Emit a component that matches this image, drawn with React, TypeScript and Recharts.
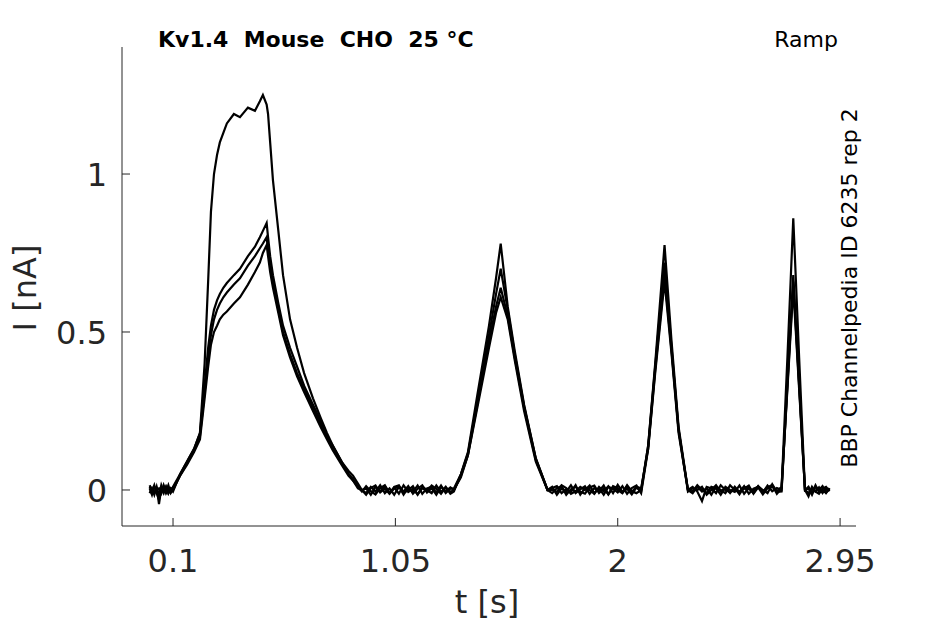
import { Line, LineChart, XAxis, YAxis } from 'recharts'

// Ramp protocol recordings, four sweeps sharing one time base (s).
const TIME = [
  0, 0.01, 0.02, 0.03, 0.04, 0.05, 0.06, 0.07, 0.08, 0.09, 0.1,
  0.13, 0.16, 0.19, 0.215,
  0.235, 0.25, 0.262, 0.275, 0.288, 0.3, 0.315, 0.33, 0.36, 0.386, 0.42, 0.45, 0.471, 0.484, 0.5,
  0.506, 0.515, 0.527, 0.55, 0.57, 0.6, 0.63, 0.66, 0.698, 0.73, 0.758, 0.783, 0.82, 0.85, 0.869, 0.89, 0.907,
  0.925, 0.945, 0.965, 0.985, 1.005, 1.025, 1.045, 1.065, 1.085, 1.105,
  1.125, 1.145, 1.165, 1.185, 1.205, 1.225, 1.245, 1.265, 1.285, 1.3,
  1.33, 1.36, 1.4, 1.45, 1.48, 1.5, 1.53, 1.56, 1.6, 1.65, 1.7,
  1.72, 1.74, 1.76, 1.78, 1.8, 1.82, 1.84, 1.86, 1.88, 1.9,
  1.92, 1.94, 1.96, 1.98, 2.0, 2.02, 2.04, 2.06, 2.08, 2.1,
  2.13, 2.16, 2.2, 2.23, 2.26, 2.3,
  2.32, 2.34, 2.36, 2.38, 2.4, 2.42, 2.44, 2.46, 2.48, 2.5,
  2.52, 2.54, 2.56, 2.58, 2.6, 2.62, 2.64, 2.66, 2.68, 2.7,
  2.725, 2.75, 2.775, 2.8,
  2.815, 2.83, 2.845, 2.86, 2.875, 2.89, 2.905,
]

// current in nA
const SWEEP_A = [
  0.01, -0.005, 0.015, -0.01, -0.03, 0.0, 0.01, -0.01, 0.005, -0.005, 0.01,
  0.05, 0.09, 0.13, 0.18,
  0.4, 0.66, 0.88, 1.0, 1.06, 1.1, 1.13, 1.16, 1.19, 1.18, 1.21, 1.2, 1.23, 1.25, 1.22,
  1.19, 1.1, 0.98, 0.82, 0.68, 0.54, 0.45, 0.37, 0.29, 0.23, 0.18, 0.14, 0.09, 0.06, 0.045, 0.02, 0.0,
  -0.01, 0.01, -0.005, 0.015, -0.01, 0.005, -0.015, 0.01, -0.005, 0.012,
  -0.012, 0.004, 0.015, -0.008, 0.006, -0.015, 0.01, -0.004, 0.008, 0.0,
  0.04, 0.11, 0.26, 0.45, 0.56, 0.61, 0.54, 0.41, 0.25, 0.09, 0.0,
  0.01, -0.015, 0.005, -0.006, 0.015, -0.01, 0.002, 0.012, -0.012, 0.006,
  -0.004, 0.014, -0.014, 0.008, 0.0, -0.01, 0.012, -0.006, 0.01, 0.005,
  0.13, 0.37, 0.66, 0.43, 0.18, 0.0,
  -0.01, 0.01, -0.005, 0.006, -0.015, 0.01, 0.0, -0.01, 0.015, 0.0,
  -0.006, 0.012, -0.012, 0.004, 0.01, -0.008, 0.014, -0.004, 0.006, 0.0,
  0.33, 0.66, 0.33, 0.0,
  -0.02, 0.01, -0.005, 0.008, -0.01, 0.005, 0.0,
]

const SWEEP_B = [
  -0.01, 0.005, -0.015, 0.01, -0.02, 0.015, -0.005, 0.01, -0.01, 0.005, -0.005,
  0.05, 0.09, 0.13, 0.18,
  0.33, 0.45, 0.52, 0.57, 0.6, 0.62, 0.64, 0.655, 0.68, 0.7, 0.74, 0.77, 0.8, 0.82, 0.845,
  0.8, 0.74, 0.68, 0.59, 0.52, 0.45, 0.39, 0.33, 0.27, 0.22, 0.17, 0.14, 0.09, 0.05, 0.03, 0.01, 0.0,
  0.005, -0.015, 0.01, -0.005, 0.012, -0.01, 0.008, -0.012, 0.015, -0.006,
  0.004, -0.014, 0.01, 0.0, -0.01, 0.014, -0.006, 0.01, -0.012, -0.005,
  0.05, 0.12, 0.3, 0.52, 0.67, 0.78, 0.58, 0.44, 0.27, 0.1, 0.0,
  -0.01, 0.006, 0.012, -0.015, 0.002, 0.01, -0.006, -0.012, 0.008, 0.014,
  -0.01, 0.004, -0.014, 0.012, 0.006, -0.008, 0.015, -0.004, -0.01, 0.0,
  0.14, 0.4, 0.775, 0.47, 0.2, 0.0,
  0.01, -0.005, -0.035, 0.01, 0.005, -0.01, 0.015, 0.0, -0.006, 0.006,
  -0.014, 0.01, 0.004, -0.01, 0.012, -0.006, 0.008, 0.016, -0.012, 0.005,
  0.42, 0.86, 0.42, 0.0,
  0.005, -0.015, 0.01, 0.0, 0.012, -0.008, 0.006,
]

const SWEEP_C = [
  0.005, -0.015, 0.01, 0.0, 0.005, -0.01, 0.015, -0.005, 0.015, -0.01, 0.0,
  0.045, 0.085, 0.125, 0.17,
  0.31, 0.42, 0.49, 0.54, 0.57, 0.59, 0.61, 0.625, 0.65, 0.67, 0.71, 0.74, 0.765, 0.78, 0.8,
  0.76, 0.71, 0.66, 0.57, 0.5, 0.43, 0.37, 0.32, 0.26, 0.21, 0.165, 0.13, 0.085, 0.05, 0.035, 0.01, -0.005,
  0.012, -0.004, -0.014, 0.006, 0.015, -0.01, 0.004, 0.012, -0.015, 0.008,
  -0.006, 0.014, -0.012, 0.005, 0.01, -0.008, 0.014, -0.01, 0.004, 0.005,
  0.05, 0.115, 0.28, 0.49, 0.62, 0.7, 0.57, 0.43, 0.265, 0.1, 0.0,
  0.006, 0.012, -0.01, 0.002, -0.006, 0.015, -0.015, 0.006, 0.0, -0.012,
  0.01, -0.004, 0.012, -0.01, 0.016, -0.006, 0.004, -0.014, 0.008, -0.005,
  0.14, 0.39, 0.72, 0.45, 0.19, 0.0,
  -0.005, 0.015, 0.0, -0.01, 0.01, 0.005, -0.015, 0.01, 0.0, -0.006,
  0.014, -0.012, 0.006, -0.004, 0.012, 0.0, -0.01, 0.018, -0.006, -0.005,
  0.34, 0.68, 0.34, 0.0,
  -0.01, 0.006, -0.005, -0.012, 0.004, 0.01, -0.004,
]

const SWEEP_D = [
  0.015, 0.0, -0.01, 0.01, -0.045, 0.005, -0.01, 0.01, -0.01, 0.005, 0.005,
  0.045, 0.08, 0.12, 0.16,
  0.29, 0.39, 0.46, 0.5, 0.52, 0.54, 0.555, 0.565, 0.59, 0.61, 0.65, 0.69, 0.72, 0.75, 0.775,
  0.74, 0.69, 0.64, 0.56, 0.49, 0.42, 0.36, 0.31, 0.25, 0.2, 0.16, 0.125, 0.08, 0.045, 0.03, 0.005, 0.0,
  -0.015, 0.006, 0.014, -0.008, 0.004, -0.012, 0.01, 0.015, -0.01, 0.0,
  0.012, -0.015, 0.006, -0.004, 0.014, 0.004, -0.012, 0.008, -0.006, 0.0,
  0.045, 0.11, 0.27, 0.47, 0.58, 0.64, 0.55, 0.42, 0.26, 0.095, 0.0,
  0.0, -0.006, 0.015, 0.006, -0.012, -0.004, 0.01, 0.0, 0.014, -0.01,
  0.006, -0.015, 0.01, 0.004, -0.008, 0.012, -0.012, 0.006, 0.014, -0.01,
  0.13, 0.38, 0.68, 0.44, 0.19, -0.005,
  0.005, 0.0, 0.01, -0.015, 0.0, 0.015, -0.005, 0.006, -0.01, 0.01,
  -0.006, 0.004, 0.014, -0.012, 0.008, -0.014, 0.006, 0.01, -0.004, 0.01,
  0.32, 0.64, 0.32, 0.0,
  0.01, -0.01, 0.015, -0.006, 0.0, -0.01, 0.005,
]

const X_TICKS = [0.1, 1.05, 2, 2.95]
const Y_TICKS = [0, 0.5, 1]

const INK = '#262626'
const FONT = '"DejaVu Sans", sans-serif'

const rows = TIME.map((t, i) => ({
  t,
  a: SWEEP_A[i],
  b: SWEEP_B[i],
  c: SWEEP_C[i],
  d: SWEEP_D[i],
}))

// matplotlib-style ticks: short marks pointing into the plot, big labels outside
function XTick({ x, y, payload }: any) {
  return (
    <g>
      <line x1={x} y1={y} x2={x} y2={y - 8} stroke={INK} strokeWidth={1} />
      <text x={x} y={y + 46} textAnchor="middle" fill={INK} fontSize={32} fontFamily={FONT}>
        {String(payload.value)}
      </text>
    </g>
  )
}

function YTick({ x, y, payload }: any) {
  return (
    <g>
      <line x1={x} y1={y} x2={x + 8} y2={y} stroke={INK} strokeWidth={1} />
      <text x={x - 15} y={y + 12} textAnchor="end" fill={INK} fontSize={32} fontFamily={FONT}>
        {String(payload.value)}
      </text>
    </g>
  )
}

export default function App() {
  return (
    <div style={{ position: 'absolute', left: 0, top: 0, width: 945, height: 624, background: '#fff' }}>
      <LineChart
        width={945}
        height={624}
        data={rows}
        margin={{ top: 47, right: 89, left: 62, bottom: 68 }}
      >
        <XAxis
          dataKey="t"
          type="number"
          domain={[-0.118, 3.018]}
          ticks={X_TICKS}
          allowDataOverflow
          height={30}
          tickSize={0}
          tickMargin={0}
          tickLine={false}
          axisLine={{ stroke: INK, strokeWidth: 1 }}
          tick={<XTick />}
          interval={0}
        />
        <YAxis
          type="number"
          domain={[-0.114, 1.402]}
          ticks={Y_TICKS}
          allowDataOverflow
          width={60}
          tickSize={0}
          tickMargin={0}
          tickLine={false}
          axisLine={{ stroke: INK, strokeWidth: 1 }}
          tick={<YTick />}
          interval={0}
        />
        {['a', 'b', 'c', 'd'].map((k) => (
          <Line
            key={k}
            type="linear"
            dataKey={k}
            stroke="#000"
            strokeWidth={2.2}
            dot={false}
            activeDot={false}
            isAnimationActive={false}
          />
        ))}
      </LineChart>
      <svg
        width={945}
        height={624}
        style={{ position: 'absolute', left: 0, top: 0, pointerEvents: 'none' }}
        fontFamily={FONT}
      >
        <text x={158} y={47} fontSize={22} fontWeight="bold" fill="#000" style={{ whiteSpace: 'pre' }}>
          Kv1.4  Mouse  CHO  25 °C
        </text>
        <text x={838} y={47} fontSize={22} textAnchor="end" fill="#000">
          Ramp
        </text>
        <text
          x={857}
          y={288}
          fontSize={22}
          textAnchor="middle"
          fill="#000"
          transform="rotate(-90 857 288)"
        >
          BBP Channelpedia ID 6235 rep 2
        </text>
        <text x={487} y={613} fontSize={32} textAnchor="middle" fill={INK}>
          t [s]
        </text>
        <text
          x={36}
          y={288}
          fontSize={32}
          textAnchor="middle"
          fill={INK}
          transform="rotate(-90 36 288)"
        >
          I [nA]
        </text>
      </svg>
    </div>
  )
}
